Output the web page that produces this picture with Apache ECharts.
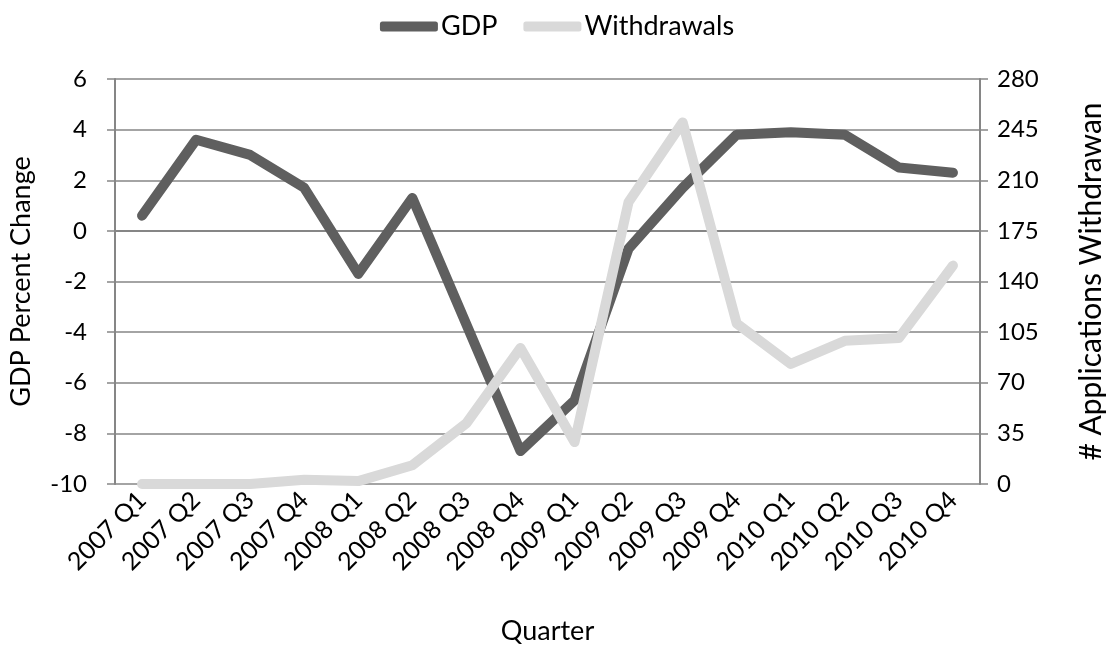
<!DOCTYPE html>
<html>
<head>
<meta charset="utf-8">
<script src="https://cdn.jsdelivr.net/npm/echarts@6/dist/echarts.min.js"></script>
<style>
  html, body { margin: 0; padding: 0; background: #fff; }
  #chart { width: 1114px; height: 650px; }
</style>
</head>
<body>
<div id="chart"></div>
<script>
const quarters = [
  "2007 Q1", "2007 Q2", "2007 Q3", "2007 Q4",
  "2008 Q1", "2008 Q2", "2008 Q3", "2008 Q4",
  "2009 Q1", "2009 Q2", "2009 Q3", "2009 Q4",
  "2010 Q1", "2010 Q2", "2010 Q3", "2010 Q4"
];
const gdp = [0.6, 3.6, 3.0, 1.7, -1.7, 1.3, -3.7, -8.7, -6.7, -0.7, 1.7, 3.8, 3.9, 3.8, 2.5, 2.3];
const withdrawals = [0, 0, 0, 3, 2, 13, 42, 94, 29, 195, 250, 111, 83, 99, 101, 151];

const font = "Lato";
const axisGray = "#868686";

const chart = echarts.init(document.getElementById("chart"));

const option = {
  animation: false,
  textStyle: { fontFamily: font, color: "#000" },
  legend: {
    top: 8,
    left: "center",
    itemWidth: 58,
    itemHeight: 10,
    itemGap: 26,
    textStyle: { fontFamily: font, fontSize: 27, color: "#000", padding: [0, 0, 0, -2] },
    data: [
      { name: "GDP", icon: "roundRect" },
      { name: "Withdrawals", icon: "roundRect" }
    ]
  },
  grid: { left: 115, right: 124, top: 79, bottom: 164 },
  xAxis: {
    type: "category",
    data: quarters,
    boundaryGap: true,
    name: "Quarter",
    nameLocation: "middle",
    nameGap: 134,
    nameTextStyle: { fontSize: 27, color: "#000" },
    axisLine: { lineStyle: { color: axisGray, width: 2 } },
    axisTick: { length: 8, lineStyle: { color: axisGray, width: 1.5 } },
    axisLabel: { rotate: 45, fontSize: 25, color: "#000", margin: 12, interval: 0 }
  },
  yAxis: [
    {
      type: "value",
      min: -10,
      max: 6,
      interval: 2,
      name: "GDP Percent Change",
      nameLocation: "middle",
      nameRotate: 90,
      nameGap: 80,
      nameTextStyle: { fontSize: 27, color: "#000" },
      axisLine: { show: true, lineStyle: { color: axisGray, width: 2 } },
      axisTick: { show: true, length: 8, lineStyle: { color: axisGray, width: 1.5 } },
      axisLabel: { fontSize: 24, color: "#000", margin: 28 },
      splitLine: { lineStyle: { color: axisGray, width: 1.5 } }
    },
    {
      type: "value",
      min: 0,
      max: 280,
      interval: 35,
      position: "right",
      name: "# Applications Withdrawan",
      nameLocation: "middle",
      nameRotate: 90,
      nameGap: 96,
      nameTextStyle: { fontSize: 30, color: "#000", padding: [0, 0, 0, 0] },
      axisLine: { show: true, lineStyle: { color: axisGray, width: 2 } },
      axisTick: { show: true, length: 8, lineStyle: { color: axisGray, width: 1.5 } },
      axisLabel: { fontSize: 24, color: "#000", margin: 17 },
      splitLine: { show: false }
    }
  ],
  series: [
    {
      name: "GDP",
      type: "line",
      yAxisIndex: 0,
      data: gdp,
      showSymbol: false,
      symbol: "none",
      color: "#5f5f5f",
      lineStyle: { width: 10, color: "#5f5f5f", cap: "round", join: "round" },
      z: 2
    },
    {
      name: "Withdrawals",
      type: "line",
      yAxisIndex: 1,
      data: withdrawals,
      showSymbol: false,
      symbol: "none",
      color: "#d9d9d9",
      lineStyle: { width: 10, color: "#d9d9d9", cap: "round", join: "round" },
      z: 3
    }
  ]
};

chart.setOption(option);
</script>
</body>
</html>
